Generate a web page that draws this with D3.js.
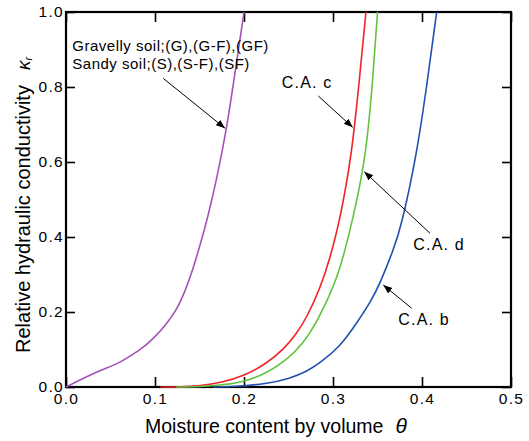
<!DOCTYPE html>
<html>
<head>
<meta charset="utf-8">
<script src="https://cdn.jsdelivr.net/npm/d3@7"></script>
<style>
  html, body { margin: 0; padding: 0; background: #fff; }
  svg { display: block; font-family: "Liberation Sans", Arial, sans-serif; }
</style>
</head>
<body>
<svg id="chart" width="529" height="441"></svg>
<script>
// ---- data ----
const xTicks = [0.0, 0.1, 0.2, 0.3, 0.4, 0.5];
const yTicks = [0.0, 0.2, 0.4, 0.6, 0.8, 1.0];

const gravelTheta = [0, 0.031, 0.059, 0.068, 0.083, 0.098, 0.113, 0.124, 0.132, 0.1375, 0.143, 0.150, 0.158, 0.169, 0.1806, 0.188, 0.1955, 0.2];
const gravelK     = [0, 0.037, 0.063, 0.077, 0.098, 0.128, 0.168, 0.205, 0.245, 0.280, 0.318, 0.373, 0.440, 0.550, 0.690, 0.808, 0.927, 1.0];

const caCTheta = [0.106, 0.13, 0.15, 0.175, 0.2, 0.2255, 0.244, 0.259, 0.2704, 0.2854, 0.2966, 0.306, 0.3135, 0.321, 0.3285, 0.337];
const caCK     = [0, 0, 0.003, 0.012, 0.029, 0.063, 0.099, 0.142, 0.185, 0.262, 0.343, 0.430, 0.520, 0.625, 0.790, 1.0];

const caDTheta = [0.124, 0.15, 0.175, 0.2, 0.2255, 0.248, 0.2667, 0.2835, 0.304, 0.3135, 0.322, 0.336, 0.3435, 0.35];
const caDK     = [0, 0.001, 0.005, 0.014, 0.0365, 0.072, 0.1165, 0.179, 0.285, 0.365, 0.445, 0.600, 0.780, 1.0];

const caBTheta = [0.165, 0.188, 0.2255, 0.2517, 0.2704, 0.2854, 0.3079, 0.3266, 0.3435, 0.3528, 0.3678, 0.3772, 0.394, 0.405, 0.4165];
const caBK     = [0, 0.001, 0.008, 0.023, 0.041, 0.064, 0.1075, 0.17, 0.232, 0.2765, 0.365, 0.432, 0.620, 0.797, 1.0];

const seriesNames = ["Gravelly", "C.A. c", "C.A. d", "C.A. b"];
const seriesColors = ["#a452b6", "#f2222a", "#63c23f", "#2150ae"];

// ---- layout ----
const svg = d3.select("#chart");
const x = d3.scaleLinear().domain([0, 0.5]).range([66, 511]);
const y = d3.scaleLinear().domain([0, 1]).range([387, 12]);
const fmt = d3.format(".1f");

// arrow marker
svg.append("defs").append("marker")
  .attr("id", "arr").attr("markerUnits", "userSpaceOnUse")
  .attr("markerWidth", 10).attr("markerHeight", 8)
  .attr("refX", 9).attr("refY", 3.5).attr("orient", "auto")
  .append("path").attr("d", "M0,0 L9,3.5 L0,7 Z").attr("fill", "#000");

// axes
function styleAxis(g) {
  g.select(".domain").remove();
  g.selectAll(".tick line").attr("stroke", "#000").attr("stroke-width", 1.6);
  g.selectAll(".tick text").attr("fill", "#000")
    .style("font-size", "15.5px").style("letter-spacing", "1.3px");
}
svg.append("g").attr("transform", `translate(0,${y(0)})`)
  .call(d3.axisBottom(x).tickValues(xTicks).tickFormat(fmt).tickSizeInner(-10).tickSizeOuter(0).tickPadding(6))
  .call(styleAxis);
svg.append("g").attr("transform", `translate(${x(0)},0)`)
  .call(d3.axisLeft(y).tickValues(yTicks).tickFormat(fmt).tickSizeInner(-9).tickSizeOuter(0).tickPadding(2))
  .call(styleAxis);
svg.append("g").attr("transform", `translate(0,${y(1)})`)
  .call(d3.axisTop(x).tickValues(xTicks).tickFormat("").tickSizeInner(-10).tickSizeOuter(0))
  .call(styleAxis);
svg.append("g").attr("transform", `translate(${x(0.5)},0)`)
  .call(d3.axisRight(y).tickValues(yTicks).tickFormat("").tickSizeInner(-9).tickSizeOuter(0))
  .call(styleAxis);

// frame
svg.append("rect")
  .attr("x", x(0)).attr("y", y(1))
  .attr("width", x(0.5) - x(0)).attr("height", y(0) - y(1))
  .attr("fill", "none").attr("stroke", "#000").attr("stroke-width", 2.2);

// curves
const series = [
  [gravelTheta, gravelK],
  [caCTheta, caCK],
  [caDTheta, caDK],
  [caBTheta, caBK]
];
const line = d3.line().x(d => x(d[0])).y(d => y(d[1])).curve(d3.curveBasis);
series.forEach((s, i) => {
  const pts = s[0].map((t, j) => [t, s[1][j]]);
  svg.append("path").datum(pts)
    .attr("class", "series").attr("data-name", seriesNames[i])
    .attr("d", line).attr("fill", "none")
    .attr("stroke", seriesColors[i]).attr("stroke-width", 1.6);
});

// annotations (data coordinates)
const arrows = [
  [0.1093, 0.823, 0.1787, 0.690],
  [0.2835, 0.776, 0.3221, 0.6925],
  [0.409, 0.41, 0.3352, 0.574],
  [0.3884, 0.2099, 0.3565, 0.272]
];
arrows.forEach(a => {
  svg.append("line")
    .attr("x1", x(a[0])).attr("y1", y(a[1]))
    .attr("x2", x(a[2])).attr("y2", y(a[3]))
    .attr("stroke", "#000").attr("stroke-width", 1)
    .attr("marker-end", "url(#arr)");
});

const labels = [
  ["Gravelly soil;(G),(G-F),(GF)", 0.0071, 0.8968, 15, 0.5],
  ["Sandy soil;(S),(S-F),(SF)", 0.0071, 0.848, 15, 0.5],
  ["C.A. c", 0.2424, 0.797, 16, 1.2],
  ["C.A. d", 0.3902, 0.3653, 16, 1.2],
  ["C.A. b", 0.3734, 0.1653, 16, 1.2]
];
labels.forEach(l => {
  svg.append("text").attr("x", x(l[1])).attr("y", y(l[2]))
    .style("font-size", l[3] + "px").style("letter-spacing", l[4] + "px")
    .attr("fill", "#000").text(l[0]);
});

// axis titles
const xt = svg.append("text").attr("x", 145).attr("y", 433)
  .style("font-size", "19.5px").attr("fill", "#000");
xt.append("tspan").text("Moisture content by volume");
xt.append("tspan").attr("dx", 12).style("font-style", "italic").style("font-size", "21px").text("θ");

const yt = svg.append("text").attr("transform", "translate(30,353) rotate(-90)")
  .style("font-size", "20px").attr("fill", "#000");
yt.append("tspan").text("Relative hydraulic conductivity");
yt.append("tspan").attr("dx", 15).style("font-style", "italic").style("font-size", "19px").text("κ");
yt.append("tspan").attr("dy", 2).style("font-style", "italic").style("font-size", "11px").text("r");
</script>
</body>
</html>
